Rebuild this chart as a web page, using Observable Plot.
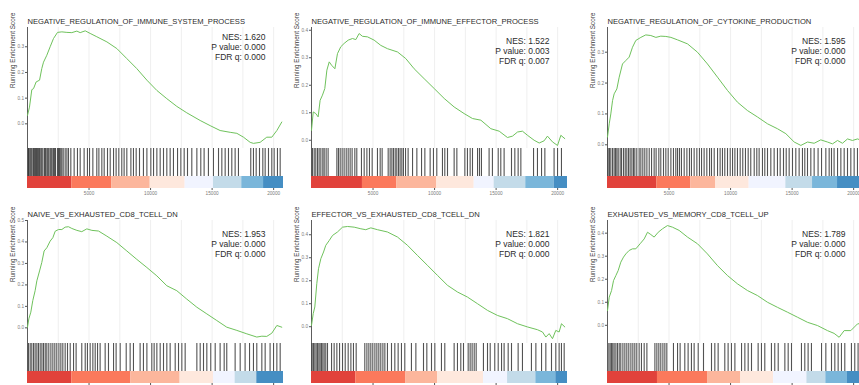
<!DOCTYPE html>
<html><head><meta charset="utf-8">
<script src="https://cdn.jsdelivr.net/npm/d3@7"></script>
<script src="https://cdn.jsdelivr.net/npm/@observablehq/plot@0.6"></script>
<style>
body{margin:0;background:#fff;}
#chart{position:relative;width:859px;height:385px;overflow:hidden;background:#fff;}
.cell{position:absolute;}
.cell svg{display:block;max-width:none;}
</style></head><body><div id="chart"></div>
<script>
// ---------- data ----------
const N = 20800; // genes in the ranked list
const titles = [
  "NEGATIVE_REGULATION_OF_IMMUNE_SYSTEM_PROCESS",
  "NEGATIVE_REGULATION_OF_IMMUNE_EFFECTOR_PROCESS",
  "NEGATIVE_REGULATION_OF_CYTOKINE_PRODUCTION",
  "NAIVE_VS_EXHAUSTED_CD8_TCELL_DN",
  "EFFECTOR_VS_EXHAUSTED_CD8_TCELL_DN",
  "EXHAUSTED_VS_MEMORY_CD8_TCELL_UP"
];
const nes = [1.620, 1.522, 1.595, 1.953, 1.821, 1.789];
const pValues = [0.000, 0.003, 0.000, 0.000, 0.000, 0.000];
const fdrQ = [0.000, 0.007, 0.000, 0.000, 0.000, 0.000];

const rank1 = [0,160,350,490,700,980,1160,1300,1570,1840,2110,2440,2790,3200,3600,4010,4280,4690,5090,5630,6450,7260,8070,8880,9700,10510,11320,12130,12940,14030,14840,15650,16470,17010,17550,18090,18360,18900,19440,19850,20260,20660];
const es1 = [0.033,0.065,0.133,0.137,0.163,0.17,0.215,0.24,0.267,0.30,0.332,0.356,0.358,0.356,0.355,0.361,0.355,0.362,0.352,0.339,0.319,0.293,0.254,0.215,0.17,0.13,0.098,0.068,0.043,0.013,-0.007,-0.026,-0.033,-0.037,-0.052,-0.072,-0.076,-0.072,-0.052,-0.052,-0.026,0.007];
const rank2 = [0,140,350,540,700,890,1080,1250,1440,1630,1900,2110,2380,2650,2980,3330,3600,3870,4140,4550,5090,5630,6170,6990,7660,8340,9150,9970,10780,11590,12400,13080,13760,14570,15250,15920,16330,16740,17140,17550,18090,18500,18900,19170,19580,19990,20260,20580];
const es2 = [0.036,0.103,0.097,0.085,0.145,0.164,0.188,0.255,0.285,0.273,0.26,0.315,0.34,0.352,0.364,0.37,0.366,0.388,0.378,0.376,0.364,0.345,0.333,0.321,0.297,0.26,0.224,0.188,0.152,0.121,0.097,0.079,0.073,0.042,0.033,0.01,0.015,0.03,0.033,0.018,0.0,-0.01,-0.002,0.015,-0.006,-0.019,0.018,0.006];
const rank3 = [0,140,270,410,540,760,950,1220,1490,1760,2030,2300,2710,3110,3520,3930,4330,4740,5150,5690,6500,7310,8120,8940,9750,10560,11370,12190,13000,13810,14490,15170,15710,16250,16790,17330,17870,18280,18690,19090,19500,19900,20310,20800];
const es3 = [0.025,0.068,0.10,0.143,0.165,0.181,0.219,0.262,0.273,0.284,0.316,0.338,0.348,0.356,0.354,0.348,0.352,0.351,0.348,0.34,0.327,0.30,0.262,0.219,0.176,0.138,0.111,0.09,0.068,0.052,0.036,0.009,-0.002,0.009,0.005,0.016,0.009,0.003,0.014,0.005,0.019,0.014,0.019,0.012];
const rank4 = [0,110,270,430,620,760,980,1160,1350,1570,1840,2060,2250,2520,2790,3060,3330,3600,4010,4410,4820,5230,5770,6450,7260,8070,8880,9700,10510,11320,12130,12940,13760,14570,15380,16190,17010,17820,18630,19040,19440,19850,20260,20660];
const es4 = [0.003,0.042,0.073,0.127,0.173,0.219,0.265,0.304,0.358,0.373,0.404,0.42,0.45,0.458,0.458,0.469,0.471,0.463,0.454,0.448,0.461,0.454,0.451,0.427,0.397,0.358,0.319,0.281,0.242,0.196,0.173,0.134,0.096,0.065,0.034,0.003,-0.012,-0.028,-0.043,-0.039,-0.04,-0.025,0.011,0.003];
const rank5 = [0,140,270,430,570,760,980,1160,1440,1710,2110,2520,2930,3470,4010,4410,4820,5360,6170,6990,7800,8610,9420,10240,11050,11860,12670,13490,14300,15110,15920,16740,17550,18360,18770,19040,19310,19580,19850,20120,20310,20580];
const es5 = [0.006,0.057,0.086,0.187,0.252,0.296,0.325,0.354,0.375,0.397,0.412,0.433,0.436,0.433,0.426,0.422,0.43,0.422,0.412,0.39,0.354,0.31,0.267,0.223,0.18,0.151,0.129,0.10,0.071,0.049,0.035,0.013,-0.001,-0.013,-0.023,-0.045,-0.03,-0.052,-0.016,-0.023,0.013,-0.001];
const rank6 = [0,140,330,490,680,870,1080,1300,1490,1760,2030,2300,2650,2980,3250,3520,3790,4120,4470,4870,5280,5820,6500,7310,8120,8940,9750,10560,11370,12190,13000,13810,14620,15440,16250,17060,17870,18410,18820,19230,19770,20310,20800];
const es6 = [0.064,0.122,0.151,0.194,0.216,0.238,0.274,0.296,0.31,0.325,0.332,0.332,0.354,0.375,0.404,0.394,0.383,0.404,0.419,0.433,0.426,0.412,0.383,0.354,0.31,0.259,0.216,0.18,0.151,0.129,0.10,0.078,0.057,0.035,0.013,-0.001,-0.023,-0.035,-0.052,-0.023,-0.023,0.006,0.01];

const hits1 = [80,130,220,300,380,490,560,650,730,810,900,980,1080,1160,1250,1380,1460,1570,1650,1730,1840,1920,2000,2110,2200,2280,2440,2520,2600,2700,2790,2900,3060,3200,3330,3520,3790,4060,4280,4600,4870,5040,5310,5630,5800,6040,6230,6500,6720,6990,7200,7420,7660,7850,8070,8400,8610,8830,9100,9420,9700,10020,10240,10510,10780,11050,11320,11590,11860,12190,12460,12730,13000,13350,13760,14080,14350,14700,15110,15520,15790,16060,16330,16600,16870,17140,18140,18360,18580,18850,19120,19310,19580,19850,20040,20310,20530];
const hits2 = [80,220,350,490,620,760,920,1030,1190,1350,2060,2190,2330,2490,2650,2820,2980,3140,3300,3520,3680,4060,4280,4500,4710,4930,5360,5580,5740,6230,6390,6530,6660,6800,6930,7070,7200,7340,7470,7640,7850,8210,8560,8940,9210,9640,9910,10180,10640,10830,11050,11590,11810,12460,12670,12890,13080,13490,13650,13810,14430,14700,15170,15380,15650,16250,16520,16790,17010,18040,18360,18690,18960,19710,19990,20310];
const hits3 = [50,160,270,410,540,650,760,870,1030,1140,1300,1440,1570,1710,1840,1980,2110,2220,2380,2570,2710,2870,3030,3200,3390,3580,3790,3950,4170,4330,4550,4740,4930,5150,5360,5550,5690,5850,6010,6230,6450,6660,6820,7040,7260,7470,7640,7850,8070,8290,8450,8670,8940,9150,9340,9530,9750,9970,10160,10350,10560,10780,10990,11210,11430,11640,11920,12130,12320,12590,12780,13000,13270,13540,13810,14030,14300,14520,14760,15030,15300,15570,15840,16030,16250,16520,16790,17110,17390,17740,18010,18200,18410,18690,18960,19230,19500,19770,20040,20310,20530,20700];
const hits4 = [80,220,350,490,620,760,890,1030,1170,1300,1440,1570,1730,1900,2060,2220,2380,2550,2710,2870,3060,3250,3470,3740,3950,4410,4690,4870,5090,5310,5500,5690,5900,6310,6580,6990,7200,7530,8020,8340,8610,9150,9420,9700,10100,10290,10510,10780,11050,11320,11590,12000,12270,12540,12810,13760,14030,14300,14570,14890,15250,15650,15980,16190,16870,17280,17680,18040,18360,18630,19040,19310,19710,19990,20260,20530];
const hits5 = [50,160,270,380,490,600,700,810,920,1030,1160,1300,1630,1840,2060,2280,2520,2740,2980,3200,3410,3630,4330,4500,4660,4820,4980,5150,5310,5470,5630,5800,5960,6170,6500,6770,7040,7310,7580,8120,8480,9100,9370,9750,10020,10560,10830,11590,11860,12130,12350,12730,12890,13050,13220,13380,13970,14300,14520,14890,15170,15440,15650,15980,16250,16790,17140,17870,18230,18690,19040,19500,19850,20120,20310,20530];
const hits6 = [110,220,330,430,540,680,810,950,1080,1250,1410,1570,1730,1900,2060,2220,2380,2570,2760,2980,3200,3850,4010,4170,4330,4500,4660,4820,5360,5690,5900,6280,6550,6820,7040,7370,7800,8450,8720,8990,9530,9800,10070,10350,10890,11160,11430,11700,12240,12510,12780,13320,13590,13870,14410,14680,14950,15760,16030,16300,16570,17390,17740,18200,18470,18740,19010,19280,19820,20090,20360,20600];

// ranked-list colour bins: start rank of each bin and its bin level (0 = most positive ... 7 = most negative)
const binStart1 = [0,3600,6850,9970,12810,15110,17410,19180];
const binStart2 = [0,4140,6930,10180,13220,14840,17410,19720];
const binStart3 = [0,4010,6770,8800,11510,14490,16660,18690];
const binStart4 = [0,3600,8400,12400,15110,16870,18630];
const binStart5 = [0,3600,7670,10240,13980,15930,18230,19850];
const binStart6 = [0,4060,8130,10830,13490,16200,17740,19500];
const binLevel1 = [0,1,2,3,4,5,6,7];
const binLevel2 = [0,1,2,3,4,5,6,7];
const binLevel3 = [0,1,2,3,4,5,6,7];
const binLevel4 = [0,1,2,3,4,5,7];
const binLevel5 = [0,1,2,3,4,5,6,7];
const binLevel6 = [0,1,2,3,4,5,6,7];

const xTicks = [5000, 10000, 15000, 20000];
const yTicksList = [[0,0.1,0.2,0.3],[0,0.1,0.2,0.3,0.4],[0,0.1,0.2,0.3],[0,0.1,0.2,0.3,0.4,0.5],[0,0.1,0.2,0.3,0.4],[0,0.1,0.2,0.3,0.4]];

// ---------- layout / style ----------
const palette = ["#DE2D26","#FB6A4A","#FCAE91","#FEE5D9","#EFF3FF","#BDD7E7","#6BAED6","#3182BD"];
const FONT = "'Liberation Sans', Arial, Helvetica, sans-serif";
const colLeft = [27, 310.5, 606.5];
const rows = [{top: 0, h: 121, labels: true}, {top: 193, h: 123, labels: false}];
const yDomains = [[-0.096,0.375],[-0.03,0.41],[-0.012,0.38],[-0.073,0.5],[-0.073,0.462],[-0.079,0.455]];
const statDy = [5, 9, 9, 9, 9, 9];
const ML = 27, PW = 256;

const panels = [
  [rank1, es1, hits1, binStart1, binLevel1],
  [rank2, es2, hits2, binStart2, binLevel2],
  [rank3, es3, hits3, binStart3, binLevel3],
  [rank4, es4, hits4, binStart4, binLevel4],
  [rank5, es5, hits5, binStart5, binLevel5],
  [rank6, es6, hits6, binStart6, binLevel6]
];

const chart = document.getElementById("chart");
function place(svg, left, top) {
  const d = document.createElement("div");
  d.className = "cell";
  d.style.left = left + "px";
  d.style.top = top + "px";
  d.appendChild(svg);
  chart.appendChild(d);
}
const baseStyle = {fontFamily: FONT, background: "transparent", overflow: "visible", color: "#333"};

panels.forEach(([ranks, es, hits, binStart, binLevel], i) => {
  const col = i % 3, row = rows[Math.floor(i / 3)];
  const left = colLeft[col] - ML;
  const curve = ranks.map((r, k) => ({r, es: es[k]}));
  const segs = binStart.map((s, k) => ({x1: s, x2: k + 1 < binStart.length ? binStart[k + 1] : N, level: binLevel[k]}));
  const stats = `NES: ${nes[i].toFixed(3)}\nP value: ${pValues[i].toFixed(3)}\nFDR q: ${fdrQ[i].toFixed(3)}`;

  const score = Plot.plot({
    width: ML + PW, height: 27 + row.h,
    marginLeft: ML, marginRight: 0, marginTop: 27, marginBottom: 0,
    style: baseStyle,
    x: {domain: [0, N], axis: null},
    y: {domain: yDomains[i]},
    marks: [
      Plot.gridX({ticks: d3.range(2500, N, 2500), stroke: "#ebebeb", strokeOpacity: 1, strokeWidth: 0.8}),
      Plot.ruleX([0], {stroke: "#333", strokeWidth: 0.8}),
      Plot.axisY({ticks: yTicksList[i], tickSize: 2, tickPadding: 1.5, tickFormat: d3.format(".1f"),
                  fontSize: 4.7, stroke: "#555", fill: "#7a7a7a", label: null}),
      Plot.line(curve, {x: "r", y: "es", stroke: "#6fc25c", strokeWidth: 1}),
      Plot.text([titles[i]], {frameAnchor: "top-left", dy: -9, fontSize: 7.6, fill: "#2b2b2b", textAnchor: "start"}),
      Plot.text(["Running Enrichment Score"], {frameAnchor: "left", dx: -15, rotate: -90, fontSize: 6.3, fill: "#3a3a3a"}),
      Plot.text([stats], {frameAnchor: "top-right", dx: -18, dy: statDy[i], lineAnchor: "top", textAnchor: "end",
                          fontSize: 8.5, lineHeight: 1.2, fill: "#2b2b2b"})
    ]
  });
  place(score, left, row.top);

  const bar = Plot.plot({
    width: ML + PW, height: 28,
    marginLeft: ML, marginRight: 0, marginTop: 0, marginBottom: 0,
    style: baseStyle,
    x: {domain: [0, N], axis: null},
    marks: [
      Plot.ruleX(hits, {stroke: "#111", strokeWidth: 1.1, strokeOpacity: 0.72}),
      Plot.ruleX([0], {stroke: "#333", strokeWidth: 0.8})
    ]
  });
  place(bar, left, row.top + 27 + row.h);

  const stripTop = row.top + 27 + row.h + 28;
  if (row.labels) {
    const strip = Plot.plot({
      width: ML + PW, height: 12 + 14,
      marginLeft: ML, marginRight: 0, marginTop: 0, marginBottom: 14,
      style: baseStyle,
      x: {domain: [0, N]},
      color: {type: "ordinal", domain: d3.range(palette.length), range: palette},
      marks: [
        Plot.rect(segs, {x1: "x1", x2: "x2", fill: "level", fillOpacity: 0.9}),
        Plot.axisX({ticks: xTicks, tickSize: 2, tickPadding: 1.5, tickFormat: d3.format("d"),
                    fontSize: 4.7, stroke: "#555", fill: "#7a7a7a", label: null})
      ]
    });
    place(strip, left, stripTop);
  } else {
    const strip = Plot.plot({
      width: ML + PW, height: 12,
      marginLeft: ML, marginRight: 0, marginTop: 0, marginBottom: 0,
      style: baseStyle,
      x: {domain: [0, N], axis: null},
      color: {type: "ordinal", domain: d3.range(palette.length), range: palette},
      marks: [Plot.rect(segs, {x1: "x1", x2: "x2", fill: "level", fillOpacity: 0.9})]
    });
    place(strip, left, stripTop);
    const ticks = Plot.plot({
      width: ML + PW, height: 2,
      marginLeft: ML, marginRight: 0, marginTop: 0, marginBottom: 0,
      style: baseStyle,
      x: {domain: [0, N], axis: null},
      marks: [Plot.tickX(xTicks, {stroke: "#555", strokeWidth: 1})]
    });
    place(ticks, left, stripTop + 12);
  }
});
</script></body></html>
